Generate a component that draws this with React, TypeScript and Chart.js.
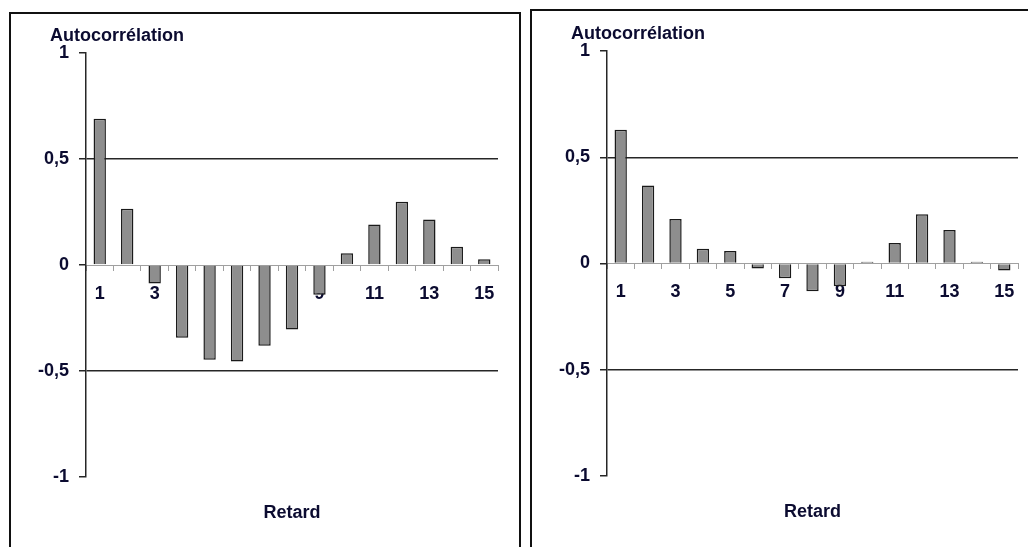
import React, { useEffect, useRef } from 'react';
import { Chart, registerables } from 'chart.js';

Chart.register(...registerables);

// ---- data ----
const lagLabels = ['1', '2', '3', '4', '5', '6', '7', '8', '9', '10', '11', '12', '13', '14', '15'];
const acfPanelA = [0.69, 0.265, -0.087, -0.343, -0.447, -0.455, -0.381, -0.304, -0.14, 0.056, 0.191, 0.298, 0.215, 0.086, 0.027];
const acfPanelB = [0.629, 0.367, 0.21, 0.069, 0.059, -0.024, -0.069, -0.13, -0.107, 0.008, 0.097, 0.232, 0.158, 0.008, -0.033];
const yTickValues = [-1, -0.5, 0, 0.5, 1];
const yTitle = 'Autocorrélation';
const xTitle = 'Retard';

const FONT = '"Liberation Sans", Arial, sans-serif';
const TEXT = '#0b0b30';

type Pad = { left: number; top: number; right: number; bottom: number };

function AcfChart({ values, width, height, padding }: { values: number[]; width: number; height: number; padding: Pad }) {
  const ref = useRef<HTMLCanvasElement | null>(null);
  useEffect(() => {
    if (!ref.current) return;
    const titles = {
      id: 'acfTitles',
      afterDraw(chart: any) {
        const { ctx, chartArea } = chart;
        ctx.save();
        ctx.fillStyle = TEXT;
        ctx.font = `bold 18px ${FONT}`;
        ctx.textBaseline = 'alphabetic';
        ctx.textAlign = 'left';
        ctx.fillText(yTitle, chartArea.left - 36, chartArea.top - 12);
        ctx.textAlign = 'center';
        ctx.fillText(xTitle, (chartArea.left + chartArea.right) / 2, chartArea.bottom + 41);
        ctx.restore();
      },
    };
    const tickFont = { family: FONT, size: 18, weight: 'bold' as const };
    const chart = new Chart(ref.current, {
      type: 'bar',
      data: {
        labels: lagLabels,
        datasets: [
          {
            data: values,
            backgroundColor: '#8e8e8e',
            borderColor: '#1a1a1a',
            borderWidth: 1.5,
            barPercentage: 0.45,
            categoryPercentage: 1,
          },
        ],
      },
      options: {
        responsive: false,
        animation: false,
        devicePixelRatio: 1,
        layout: { padding },
        plugins: {
          legend: { display: false },
          tooltip: { enabled: false },
          title: { display: false },
        },
        scales: {
          x: {
            type: 'category',
            position: { y: 0 } as any,
            offset: true,
            grid: {
              offset: true,
              drawOnChartArea: false,
              drawTicks: true,
              tickLength: 5,
              color: '#a0a0a0',
              lineWidth: 1,
            },
            border: { display: true, color: '#a0a0a0', width: 1 },
            ticks: {
              autoSkip: false,
              maxRotation: 0,
              padding: 13,
              color: TEXT,
              font: tickFont,
              callback: (_v: any, i: number) => (i % 2 === 0 ? lagLabels[i] : ''),
            },
          },
          y: {
            min: -1,
            max: 1,
            afterBuildTicks: (s: any) => {
              s.ticks = yTickValues.map((v) => ({ value: v }));
            },
            afterFit: (s: any) => {
              s.width = 75;
            },
            grid: {
              color: (c: any) =>
                c.tick && Math.abs(Math.abs(c.tick.value) - 0.5) < 1e-9 ? '#262626' : 'rgba(0,0,0,0)',
              tickColor: '#262626',
              lineWidth: 1.5,
              tickLength: 7,
              drawTicks: true,
            },
            border: { display: true, color: '#262626', width: 1.5 },
            ticks: {
              padding: 10,
              color: TEXT,
              font: tickFont,
              callback: (v: any) => String(v).replace('.', ','),
            },
          },
        },
      },
      plugins: [titles],
    });
    return () => chart.destroy();
  }, [values, padding]);
  return <canvas ref={ref} width={width} height={height} style={{ display: 'block', width, height }} />;
}

const padA: Pad = { left: 0, top: 39, right: 21, bottom: 70 };
const padB: Pad = { left: 0, top: 40, right: 10, bottom: 71 };

export default function App() {
  return (
    <div
      style={{
        position: 'fixed',
        left: 0,
        top: 0,
        width: 1028,
        height: 547,
        background: '#fff',
        overflow: 'hidden',
      }}
    >
      <div
        style={{
          position: 'absolute',
          left: 9,
          top: 12,
          width: 512,
          height: 600,
          boxSizing: 'border-box',
          borderTop: '2px solid #111',
          borderLeft: '2px solid #111',
          borderRight: '2px solid #111',
        }}
      />
      <div
        style={{
          position: 'absolute',
          left: 530,
          top: 9,
          width: 600,
          height: 600,
          boxSizing: 'border-box',
          border: '2px solid #111',
        }}
      />
      <div style={{ position: 'absolute', left: 11, top: 14 }}>
        <AcfChart values={acfPanelA} width={508} height={533} padding={padA} />
      </div>
      <div style={{ position: 'absolute', left: 532, top: 11 }}>
        <AcfChart values={acfPanelB} width={496} height={536} padding={padB} />
      </div>
    </div>
  );
}
